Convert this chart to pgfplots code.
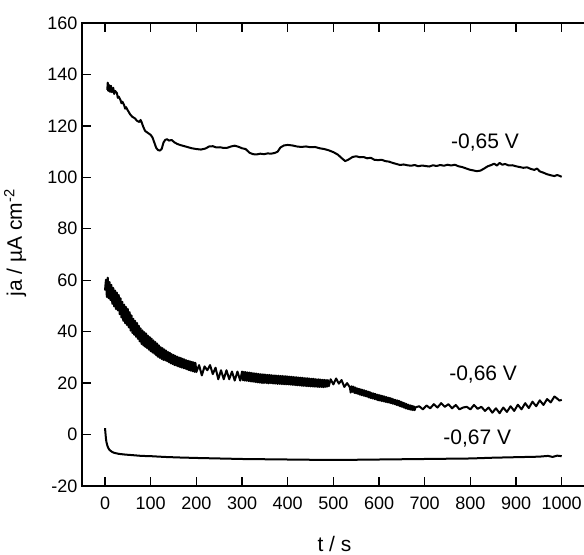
\documentclass[border=0pt]{standalone}
\usepackage{fontspec}
\setmainfont{Liberation Sans}
\usepackage{pgfplots}
\pgfplotsset{compat=1.18}

\tikzset{curve/.style={black, no marks, line width=2bp, line join=round}}

\begin{document}
\begin{tikzpicture}
\begin{axis}[
  name=ax,
  at={(0,0)}, anchor=south west,
  scale only axis,
  width=503bp, height=463bp,
  xmin=-50.4, xmax=1051,
  ymin=-20, ymax=160,
  xtick={0,100,...,1000},
  ytick={-20,0,...,160},
  ytick pos=left,
  xtick pos=both,
  xticklabel pos=bottom,
  tick align=inside,
  major tick length=9bp,
  minor tick num=0,
  axis line style={line width=1.3bp},
  every tick/.style={black, line width=1.3bp},
  /pgf/number format/assume math mode=true,
  /pgf/number format/1000 sep={},
  tick label style={font=\fontsize{18bp}{21bp}\selectfont},
  xticklabel style={yshift=-7bp},
  yticklabel style={xshift=-1bp},
  label style={font=\fontsize{21bp}{25bp}\selectfont},
  xlabel={t / s},
  ylabel={ja / µA cm\textsuperscript{-2}},
  xlabel style={at={(axis description cs:0.502,-0.125)}, anchor=center},
  ylabel style={at={(axis description cs:-0.133,0.525)}, anchor=center},
  clip=false,
]

% -0,65 V
\addplot [curve] table {
t y
5 134
6 136.8
7 133.6
9 135.9
11 133.2
13 135.6
15 133.1
18 134.8
20 132.4
22 133.6
26 132.8
28 130.9
30 131.4
34 130
36 128.8
38 129.4
42 128
44 126.7
46 127.3
50 126
55 124.5
60 123.5
65 123
70 122
75 121.5
78 122.3
80 121.5
84 119.5
88 118
92 117.5
96 117
100 116.5
104 115.5
108 113.5
112 111.5
116 110.6
120 110.4
124 111
128 113.5
132 114.6
136 114.8
140 114.3
146 114.5
152 113.6
158 113
164 112.6
170 112.3
180 111.8
190 111.3
200 111
210 110.8
220 111.2
228 112
236 112.1
244 111.6
252 111.7
260 111.4
268 111.5
276 112
284 112.3
292 111.9
300 111.3
308 111
316 109.6
324 109
332 108.9
340 109.2
348 109
356 109.3
364 109.2
372 109.5
378 110
384 111.6
392 112.4
400 112.6
410 112.4
420 112
430 111.8
440 112
450 111.7
460 111.8
470 111.3
480 111
490 110.5
500 109.8
510 108.8
518 107.5
526 106.3
534 107
542 107.9
550 108.2
558 107.8
566 107.9
574 107.4
582 107.6
590 106.8
598 106.7
606 106.8
614 106.3
622 106.1
630 105.6
638 105.2
646 104.8
654 105
662 104.7
670 104.5
678 104.8
686 104.3
694 104.6
702 104.4
710 104.2
718 104.7
726 104.4
734 104.8
742 104.5
750 104.9
758 104.6
766 104.9
774 104.3
782 104
790 103.5
798 103
806 102.7
814 102.4
822 102.6
830 103.4
838 104.3
846 104.8
852 105.3
858 104.6
864 105.6
870 104.9
876 105.2
884 104.6
892 104.7
900 104.3
908 104
916 103.7
924 103.9
932 103.3
940 102.9
946 103.4
952 102.3
960 101.8
968 101.2
976 100.8
984 100.5
990 100.9
995 100.6
1000 100.2
};

% -0,66 V
\addplot [curve] table {
t y
0 56
2 60.2
4 53.5
6 61
8 53
10 59.3
12 52.3
14 58.2
16 50.8
18 57
20 49.8
22 56
24 48.8
26 55.2
28 48.3
30 54.3
32 46.8
34 53
36 45.5
38 51.6
40 44.2
42 50.5
44 43.3
46 49.6
48 42.6
50 48.8
52 41.7
54 47.6
56 40.4
58 46.3
60 39.5
62 45
64 38.8
66 44.2
68 38
70 43.4
72 37.2
74 42.3
76 36.2
78 41.3
80 35.2
82 40.5
84 34.6
86 39.8
88 34.1
90 39.3
92 33.6
94 38.5
96 33
98 37.9
100 32.4
102 37.3
104 31.9
106 36.6
108 31.4
110 36
112 30.8
114 35.4
116 30.2
118 34.7
120 29.8
122 34
124 29.4
126 33.6
128 29
130 33.1
132 28.8
134 32.6
136 28.5
138 32.1
140 28.1
142 31.8
144 27.7
146 31.3
148 27.4
150 31
152 27
154 30.6
156 26.8
158 30.3
160 26.5
162 30
164 26.3
166 29.8
168 26
170 29.5
172 25.8
174 29.2
176 25.6
178 28.9
180 25.3
182 28.7
184 25
186 28.5
188 24.8
190 28.3
192 24.6
194 28.1
196 24.4
198 27.9
200 24.3
206 27
212 23
218 26.5
224 25
230 27
236 23.5
242 26
248 21.5
254 25
260 21.5
266 25
272 21.5
278 24.5
284 21
290 24.5
296 21
300 24.5
302 21.1
304 24.4
306 21
308 24.3
310 20.9
312 24.2
314 20.8
316 24.1
318 20.7
320 24
322 20.6
324 23.9
326 20.5
328 23.8
330 20.4
332 23.7
334 20.3
336 23.6
338 20.2
340 23.5
342 20.1
344 23.4
346 20
348 23.4
350 20.1
352 23.3
354 20
356 23.2
358 19.9
360 23.2
362 20
364 23.1
366 19.9
368 23
370 19.8
372 23
374 19.8
376 22.9
378 19.7
380 22.9
382 19.7
384 22.8
386 19.6
388 22.8
390 19.6
392 22.7
394 19.5
396 22.7
398 19.5
400 22.6
402 19.5
404 22.5
406 19.4
408 22.5
410 19.3
412 22.4
414 19.3
416 22.3
418 19.2
420 22.3
422 19.1
424 22.2
426 19.1
428 22.1
430 19
432 22.1
434 18.9
436 22
438 18.9
440 21.9
442 18.8
444 21.9
446 18.8
448 21.8
450 18.7
452 21.7
454 18.7
456 21.7
458 18.6
460 21.6
462 18.6
464 21.5
466 18.5
468 21.5
470 18.5
472 21.4
474 18.5
476 21.3
478 18.4
480 21.3
482 18.5
484 21.2
486 18.6
488 21.2
490 18.8
494 21.5
500 19.5
506 21.8
512 19.8
518 21.2
524 18.5
530 20
536 18.4
538 16.3
540 18.8
542 16.6
544 18.6
546 16.2
548 18.3
550 16
552 18
554 15.8
556 17.8
558 15.5
560 17.6
562 15.3
564 17.4
566 15.1
568 17.2
570 14.9
572 17
574 14.7
576 16.7
578 14.4
580 16.5
582 14.2
584 16.2
586 14
588 16
590 13.8
592 15.8
594 13.6
596 15.5
598 13.3
600 15.4
602 13.2
604 15.2
606 13
608 15
610 12.9
612 14.8
614 12.7
616 14.6
618 12.5
620 14.4
622 12.4
624 14.2
626 12.2
628 14
630 12
632 13.7
634 11.8
636 13.5
638 11.5
640 13.3
642 11.3
644 13.1
646 11
648 12.8
650 10.8
652 12.5
654 10.5
656 12.2
658 10.2
660 11.9
662 10
664 11.6
666 9.8
668 11.4
670 9.6
672 11.2
674 9.5
676 11
678 9.5
680 10.6
688 11
696 9.8
704 11.3
712 10.2
720 11.8
728 10.5
736 12.2
744 10.8
752 11.8
760 10.2
768 11.5
776 9.8
784 10.5
792 10.8
800 9.8
808 11.5
816 10
824 10.8
832 9.2
840 10.5
848 8.5
856 10.2
864 8.3
872 10.5
880 8.8
888 11
896 9.2
904 11.6
912 9.8
920 12.2
928 10.3
936 12.8
944 11
952 13.3
960 11.5
968 13.8
976 12.5
984 14.8
990 14
995 13.2
1000 13.5
};

% -0,67 V
\addplot [curve] table {
t y
0 2.5
1 0.5
2 -1.5
3 -2.8
5 -4.2
7 -5.2
10 -6
15 -6.7
20 -7.1
30 -7.5
45 -7.8
60 -8
80 -8.3
100 -8.4
130 -8.7
160 -8.9
200 -9.1
250 -9.3
300 -9.5
350 -9.6
400 -9.7
450 -9.8
500 -9.8
550 -9.8
600 -9.7
650 -9.6
700 -9.5
750 -9.4
800 -9.3
850 -9
900 -8.8
950 -8.6
970 -8.3
980 -8.7
990 -8.2
1000 -8.4
};

\node [font=\fontsize{21bp}{25bp}\selectfont] at (axis cs:832,113.4) {-0,65 V};
\node [font=\fontsize{21bp}{25bp}\selectfont] at (axis cs:828,23.2) {-0,66 V};
\node [font=\fontsize{21bp}{25bp}\selectfont] at (axis cs:815,-1.7) {-0,67 V};
\end{axis}
\pgfresetboundingbox
\path (-82bp,-69bp) rectangle (502bp,486bp);
\end{tikzpicture}
\end{document}
